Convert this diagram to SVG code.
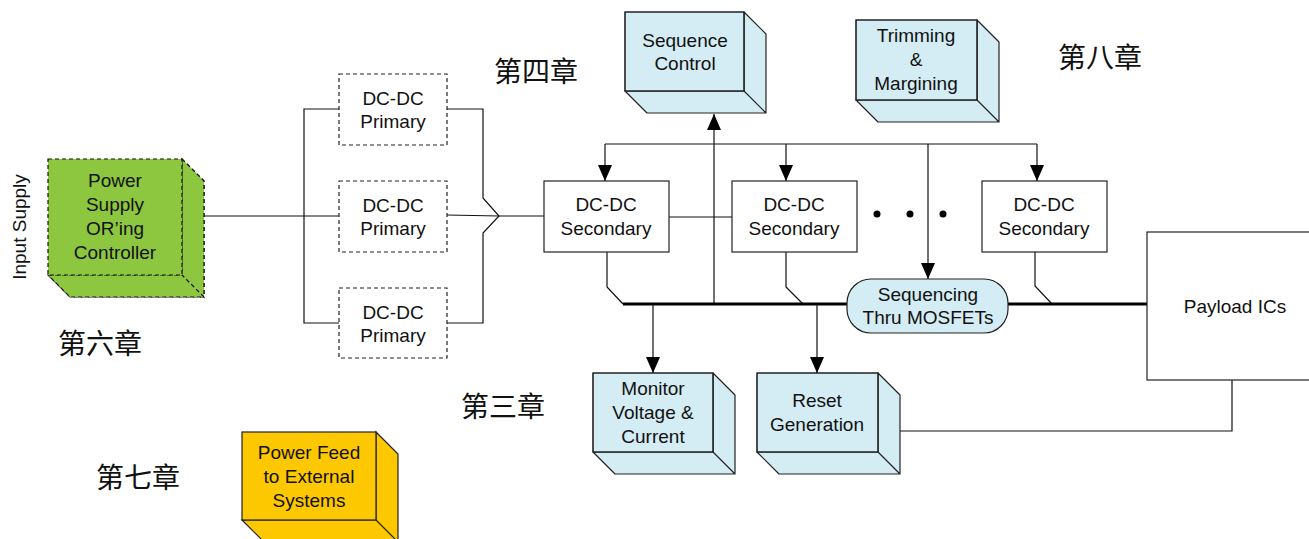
<svg xmlns="http://www.w3.org/2000/svg" width="1309" height="539" viewBox="0 0 1309 539">
<defs>
<marker id="arr" markerUnits="userSpaceOnUse" markerWidth="16" markerHeight="16" viewBox="0 0 16 14" refX="16" refY="7" orient="auto">
<path d="M0,0 L16,7 L0,14 Z" fill="#000"/>
</marker>
</defs>
<style>
text{font-family:"Liberation Sans",Arial,sans-serif;font-size:19px;fill:#111;text-anchor:middle}
.cjk{font-family:"Noto Sans CJK SC","Noto Sans CJK JP",sans-serif;font-size:28px}
.ln{fill:none;stroke:#111;stroke-width:1.2}
.bus{fill:none;stroke:#000;stroke-width:3}
.box{fill:#fff;stroke:#222;stroke-width:1.2}
.dash{fill:#fff;stroke:#222;stroke-width:1.2;stroke-dasharray:4 3}
.blue{fill:#d4ecf3;stroke:#222;stroke-width:1.2;stroke-linejoin:round}
.front{stroke-width:1.6}
.green{fill:#8dc63f;stroke:#111;stroke-width:1.2;stroke-dasharray:4 3}
.yellow{fill:#fdc800;stroke:#222;stroke-width:1.2}
</style>

<g id="connectors">
<path class="ln" d="M182,216 H339"/>
<path class="ln" d="M339,109 H304 V323 H339"/>
<path class="ln" d="M447,109 H483 V198 L499,216 L483,233 V323 H447"/>
<path class="ln" d="M447,215 L499,216 H544"/>
<path class="ln" d="M669,217 H732"/>
<path class="ln" d="M605,144 H1037"/>
<path class="ln" d="M605,144 V181" marker-end="url(#arr)"/>
<path class="ln" d="M786,144 V181" marker-end="url(#arr)"/>
<path class="ln" d="M1037,144 V181" marker-end="url(#arr)"/>
<path class="ln" d="M928,144 V279" marker-end="url(#arr)"/>
<path class="ln" d="M714,304 V114" marker-end="url(#arr)"/>
<path class="ln" d="M607,252 V287 L623,304"/>
<path class="ln" d="M786,252 V287 L803,304"/>
<path class="ln" d="M1035,252 V286 L1052,304"/>
<path class="bus" d="M623,304 H847"/>
<path class="bus" d="M1008,304 H1147"/>
<path class="ln" d="M653,304 V373" marker-end="url(#arr)"/>
<path class="ln" d="M817,304 V373" marker-end="url(#arr)"/>
<path class="ln" d="M1232,380 V431 H878"/>
</g>

<g id="input-supply"><text transform="translate(26,227) rotate(-90)" font-size="17">Input Supply</text></g>

<g id="power-supply">
<path class="green" d="M182,159 L204,181 V297 H70 L48,275 Z"/>
<path class="green" d="M182,159 L204,181 V297 L182,275 Z M48,275 H182 L204,297 H70 Z"/>
<rect class="green" x="48" y="159" width="134" height="116"/>
<text x="115" y="187">Power</text><text x="115" y="211">Supply</text><text x="115" y="235">OR’ing</text><text x="115" y="259">Controller</text>
</g>

<g id="primary1"><rect class="dash" x="339" y="74" width="108" height="71"/><text x="393" y="105">DC-DC</text><text x="393" y="128">Primary</text></g>
<g id="primary2"><rect class="dash" x="339" y="181" width="108" height="71"/><text x="393" y="212">DC-DC</text><text x="393" y="235">Primary</text></g>
<g id="primary3"><rect class="dash" x="339" y="288" width="108" height="70"/><text x="393" y="319">DC-DC</text><text x="393" y="342">Primary</text></g>

<g id="secondary1"><rect class="box" x="544" y="181" width="125" height="71"/><text x="606" y="211">DC-DC</text><text x="606" y="235">Secondary</text></g>
<g id="secondary2"><rect class="box" x="732" y="181" width="125" height="71"/><text x="794" y="211">DC-DC</text><text x="794" y="235">Secondary</text></g>
<g id="secondary3"><rect class="box" x="982" y="181" width="125" height="71"/><text x="1044" y="211">DC-DC</text><text x="1044" y="235">Secondary</text></g>

<g id="dots"><circle cx="877" cy="214" r="3.5"/><circle cx="910" cy="214" r="3.5"/><circle cx="943" cy="214" r="3.5"/></g>

<g id="sequence-control">
<path class="blue" d="M744,12 L766,34 V113 L744,91 Z M625,91 H744 L766,113 H647 Z"/>
<rect class="blue front" x="625" y="12" width="119" height="79"/>
<text x="685" y="47">Sequence</text><text x="685" y="70">Control</text>
</g>

<g id="trimming">
<path class="blue" d="M977,20 L999,42 V122 L977,100 Z M856,100 H977 L999,122 H878 Z"/>
<rect class="blue front" x="856" y="20" width="121" height="80"/>
<text x="916" y="42">Trimming</text><text x="916" y="66">&amp;</text><text x="916" y="90">Margining</text>
</g>

<g id="sequencing"><rect class="blue" x="847" y="279" width="161" height="54" rx="24"/><text x="928" y="301">Sequencing</text><text x="928" y="324">Thru MOSFETs</text></g>

<g id="payload"><rect class="box" x="1147" y="232" width="170" height="148"/><text x="1235" y="313">Payload ICs</text></g>

<g id="monitor">
<path class="blue" d="M713,373 L735,395 V474 L713,452 Z M593,452 H713 L735,474 H615 Z"/>
<rect class="blue front" x="593" y="373" width="120" height="79"/>
<text x="653" y="395">Monitor</text><text x="653" y="419">Voltage &amp;</text><text x="653" y="443">Current</text>
</g>

<g id="reset">
<path class="blue" d="M878,373 L900,395 V474 L878,452 Z M757,452 H878 L900,474 H779 Z"/>
<rect class="blue front" x="757" y="373" width="121" height="79"/>
<text x="817" y="407">Reset</text><text x="817" y="431">Generation</text>
</g>

<g id="power-feed">
<path class="yellow" d="M376,432 L398,454 V542 L376,520 Z M242,520 H376 L398,542 H264 Z"/>
<rect class="yellow front" x="242" y="432" width="134" height="88"/>
<text x="309" y="459">Power Feed</text><text x="309" y="483">to External</text><text x="309" y="507">Systems</text>
</g>

<g id="chapters">
<text class="cjk" x="536" y="82">第四章</text>
<text class="cjk" x="1100" y="68">第八章</text>
<text class="cjk" x="100" y="354">第六章</text>
<text class="cjk" x="503" y="417">第三章</text>
<text class="cjk" x="138" y="488">第七章</text>
</g>
</svg>
